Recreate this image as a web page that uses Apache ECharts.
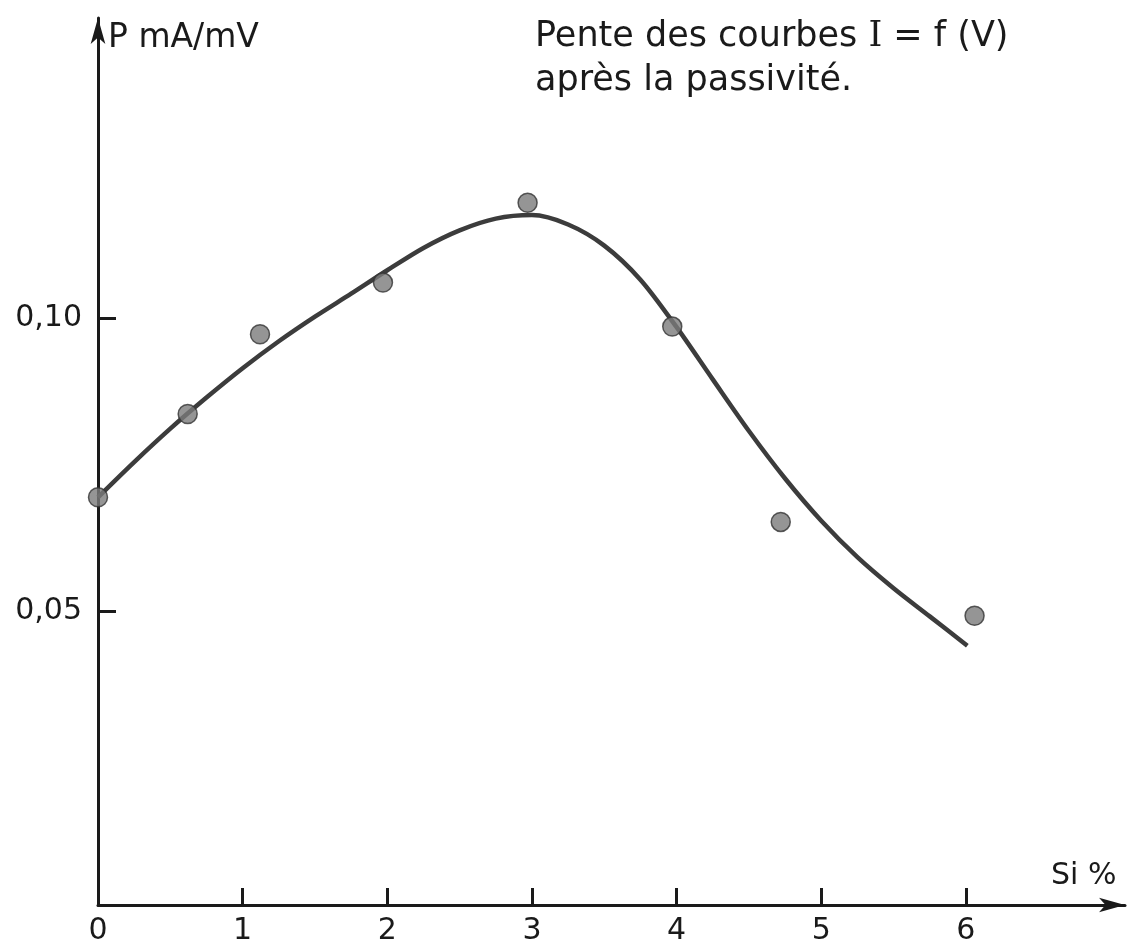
<!DOCTYPE html>
<html>
<head>
<meta charset="utf-8">
<script src="https://cdn.jsdelivr.net/npm/echarts@6/dist/echarts.min.js"></script>
<style>
  html, body { margin: 0; padding: 0; background: #fff; }
  #chart { width: 1139px; height: 946px; }
</style>
</head>
<body>
<div id="chart"></div>
<script>
// Measured slope P (mA/mV) against silicon content (Si %)
const siPct = [0, 0.62, 1.12, 1.97, 2.97, 3.97, 4.72, 6.06];
const slope = [0.0695, 0.0837, 0.0973, 0.1061, 0.1197, 0.0986, 0.0653, 0.0493];

// Hand-fitted trend curve through the measurements
const curveSi    = [0, 0.25, 0.5, 0.75, 1.0, 1.25, 1.5, 1.75, 2.0, 2.25, 2.5, 2.75, 3.0,
                    3.25, 3.5, 3.75, 4.0, 4.25, 4.5, 4.75, 5.0, 5.25, 5.5, 5.75, 6.01];
const curveSlope = [0.0695, 0.0755, 0.0812, 0.0865, 0.0915, 0.0961, 0.1003, 0.1042, 0.1082, 0.1120, 0.1150, 0.1170, 0.1176,
                    0.1160, 0.1124, 0.1066, 0.0985, 0.0896, 0.0808, 0.0727, 0.0655, 0.0593, 0.0540, 0.0492, 0.0442];

// Axis tick values
const xTicks = [0, 1, 2, 3, 4, 5, 6];
const yTicks = [0.05, 0.10];

const FONT = 'DejaVu Sans';
const INK = '#1a1a1a';

const chart = echarts.init(document.getElementById('chart'), null, { renderer: 'canvas' });

chart.setOption({
  backgroundColor: '#ffffff',
  animation: false,
  title: {
    text: 'Pente des courbes {s|I} = f (V)\naprès la passivité.',
    left: 530,
    top: 10,
    textStyle: {
      fontFamily: FONT,
      fontSize: 35,
      fontWeight: 'normal',
      color: INK,
      lineHeight: 44,
      rich: {
        s: { fontFamily: 'DejaVu Serif', fontSize: 35, color: INK, lineHeight: 44 }
      }
    }
  },
  grid: { left: 98, right: 14, top: 18, bottom: 39 },
  xAxis: {
    type: 'value',
    min: 0,
    max: 7.1,
    name: 'Si %',
    nameLocation: 'end',
    nameGap: -74,
    nameTextStyle: {
      fontFamily: FONT, fontSize: 30, color: INK,
      align: 'left', verticalAlign: 'bottom', padding: [0, 0, 14, 0]
    },
    axisLine: {
      show: true,
      symbol: ['none', 'arrow'],
      symbolSize: [11, 26],
      lineStyle: { color: INK, width: 3 }
    },
    axisTick: {
      show: true, inside: true, length: 17,
      customValues: xTicks,
      lineStyle: { color: INK, width: 3 }
    },
    axisLabel: {
      show: true, customValues: xTicks, margin: 11,
      fontFamily: FONT, fontSize: 30, color: INK
    },
    splitLine: { show: false }
  },
  yAxis: {
    type: 'value',
    min: 0,
    max: 0.1512,
    name: 'P mA/mV',
    nameLocation: 'end',
    nameGap: -20,
    nameTextStyle: {
      fontFamily: FONT, fontSize: 33, color: INK,
      align: 'left', verticalAlign: 'middle', padding: [0, 0, 0, 10]
    },
    axisLine: {
      show: true,
      symbol: ['none', 'arrow'],
      symbolSize: [11, 26],
      lineStyle: { color: INK, width: 3 }
    },
    axisTick: {
      show: true, inside: true, length: 18,
      customValues: yTicks,
      lineStyle: { color: INK, width: 3 }
    },
    axisLabel: {
      show: true, customValues: yTicks, margin: 16,
      fontFamily: FONT, fontSize: 30, color: INK,
      formatter: v => v.toFixed(2).replace('.', ',')
    },
    splitLine: { show: false }
  },
  series: [
    {
      name: 'courbe',
      type: 'line',
      data: curveSi.map((x, i) => [x, curveSlope[i]]),
      smooth: 0.3,
      showSymbol: false,
      lineStyle: { color: '#3c3c3c', width: 4.5 },
      z: 2
    },
    {
      name: 'mesures',
      type: 'scatter',
      data: siPct.map((x, i) => [x, slope[i]]),
      symbol: 'circle',
      symbolSize: 19,
      itemStyle: { color: '#7a7a7a', borderColor: '#333', borderWidth: 1.5 },
      z: 3
    }
  ]
});
</script>
</body>
</html>
